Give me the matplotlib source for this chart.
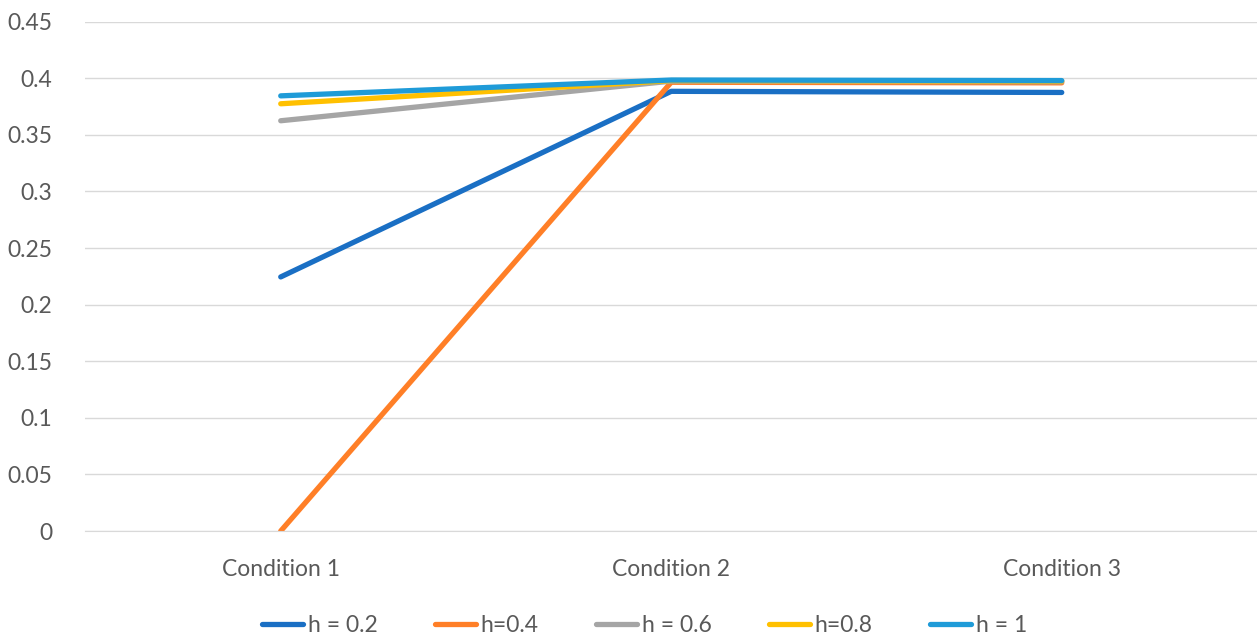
import numpy as np
import matplotlib.pyplot as plt

plt.rcParams['font.family'] = ['Lato', 'DejaVu Sans']

# data
conditions = ['Condition 1', 'Condition 2', 'Condition 3']
h02 = [0.2245, 0.3885, 0.3875]
h04 = [0.0, 0.3965, 0.396]
h06 = [0.3625, 0.3975, 0.397]
h08 = [0.3775, 0.398, 0.3975]
h10 = [0.3845, 0.3985, 0.398]
labels = ['h = 0.2', 'h=0.4', 'h = 0.6', 'h=0.8', 'h = 1']
colors = ['#1A6FC4', '#FF7F27', '#A5A5A5', '#FFC000', '#1F9BD8']

fig = plt.figure(figsize=(12.57, 6.39), dpi=100)
ax = fig.add_axes([0.068, 0.169, 0.932, 0.797])

x = np.arange(len(conditions))
for ys, lab, c in zip([h02, h04, h06, h08, h10], labels, colors):
    ax.plot(x, ys, color=c, lw=3.8, solid_capstyle='round', label=lab)

ax.set_xlim(-0.5, 2.5)
ax.set_ylim(0, 0.45)
ax.set_yticks(np.arange(0, 0.451, 0.05))
ax.set_yticklabels(['0', '0.05', '0.1', '0.15', '0.2', '0.25', '0.3', '0.35', '0.4', '0.45'])
ax.set_xticks(x)
ax.set_xticklabels(conditions)
ax.grid(axis='y', color='#D9D9D9', lw=1)
ax.set_axisbelow(True)
for s in ['top', 'right', 'left']:
    ax.spines[s].set_visible(False)
ax.spines['bottom'].set_color('#D9D9D9')
ax.tick_params(length=0, labelsize=16.5, colors='#595959')
ax.tick_params(axis='x', pad=20)
ax.tick_params(axis='y', pad=24)

ax.legend(loc='upper center', bbox_to_anchor=(0.477, -0.125), ncol=5, frameon=False,
          fontsize=16.5, handlelength=1.8, handletextpad=0.2, columnspacing=2.5,
          labelcolor='#595959')

fig.savefig('out.png', dpi=100)
